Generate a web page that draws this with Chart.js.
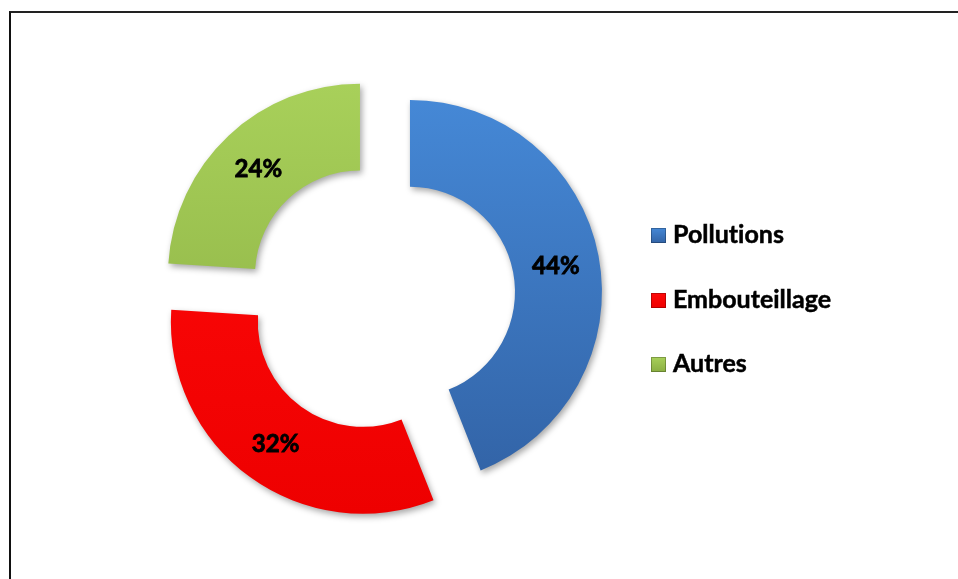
<!DOCTYPE html>
<html>
<head>
<meta charset="utf-8">
<script src="https://cdn.jsdelivr.net/npm/chart.js@4"></script>
<style>
  body { margin: 0; background: #fff; }
  #wrap { position: relative; width: 958px; height: 579px; overflow: hidden; }
  #frame {
    position: absolute; left: 9px; top: 11px; right: -5px; bottom: -5px;
    border-left: 2px solid #111; border-top: 2px solid #222;
  }
  #chart { position: absolute; left: 0; top: 0; }
  #legend {
    position: absolute; left: 651px; top: 0;
    font-family: Lato, "Open Sans", sans-serif; font-weight: bold; font-size: 25px; color: #000;
    font-variant-ligatures: none; -webkit-text-stroke: 0.5px #000;
  }
  .item { position: absolute; left: 0; white-space: nowrap; height: 30px; }
  .box { position: absolute; left: 0; top: 0; width: 15px; height: 15px; }
  .txt { position: absolute; left: 22px; top: -10px; }
</style>
</head>
<body>
<div id="wrap">
  <div id="frame"></div>
  <canvas id="chart" width="958" height="579"></canvas>
  <div id="legend"></div>
</div>
<script>
const categories = ['Pollutions', 'Embouteillage', 'Autres'];
const shares = [44, 32, 24];
const percentLabels = ['44%', '32%', '24%'];
const topColors = ['#4588d6', '#ff0a0a', '#a8d05a'];
const bottomColors = ['#3263a6', '#ee0000', '#8aae42'];
const legendTops = [228, 293, 357];

const explode = 30;

function sliceFill(context) {
    const chart = context.chart;
    const i = context.dataIndex;
    const area = chart.chartArea;
    if (!area) return topColors[i];
    const cy = (area.top + area.bottom) / 2;
    const g = chart.ctx.createLinearGradient(0, cy - 192, 0, cy + 192);
    g.addColorStop(0, topColors[i]);
    g.addColorStop(1, bottomColors[i]);
    return g;
}

// pull every slice outward along its middle angle, with a soft drop shadow
const explodedSlices = {
    id: 'explodedSlices',
    beforeDatasetDraw(chart, args) {
        const ctx = chart.ctx;
        args.meta.data.forEach(arc => {
            const mid = (arc.startAngle + arc.endAngle) / 2;
            ctx.save();
            ctx.translate(Math.cos(mid) * explode, Math.sin(mid) * explode);
            ctx.shadowColor = 'rgba(0,0,0,0.35)';
            ctx.shadowBlur = 6;
            ctx.shadowOffsetX = 2;
            ctx.shadowOffsetY = 3;
            arc.draw(ctx);
            ctx.restore();
        });
        return false;
    },
    afterDatasetsDraw(chart) {
        const ctx = chart.ctx;
        const meta = chart.getDatasetMeta(0);
        ctx.save();
        ctx.font = 'bold 24px Lato, "Open Sans", sans-serif';
        ctx.fillStyle = '#000';
        ctx.strokeStyle = '#000';
        ctx.lineWidth = 0.8;
        ctx.textAlign = 'center';
        ctx.textBaseline = 'middle';
        meta.data.forEach((arc, i) => {
            const mid = (arc.startAngle + arc.endAngle) / 2;
            const r = explode + (arc.innerRadius + arc.outerRadius) / 2;
            const x = arc.x + Math.cos(mid) * r;
            const y = arc.y + Math.sin(mid) * r + 2;
            ctx.fillText(percentLabels[i], x, y);
            ctx.strokeText(percentLabels[i], x, y);
        });
        ctx.restore();
    }
};

new Chart(document.getElementById('chart'), {
    type: 'doughnut',
    data: {
        labels: categories,
        datasets: [{
            data: shares,
            backgroundColor: sliceFill,
            borderWidth: 0
        }]
    },
    options: {
        responsive: false,
        animation: false,
        radius: 192,
        cutout: '54.7%',
        layout: { padding: { left: 0, right: 197, top: 16, bottom: 0 } },
        plugins: {
            legend: { display: false },
            tooltip: { enabled: false }
        }
    },
    plugins: [explodedSlices]
});

// legend on the right
const legend = document.getElementById('legend');
categories.forEach((name, i) => {
    const item = document.createElement('div');
    item.className = 'item';
    item.style.top = legendTops[i] + 'px';
    const box = document.createElement('div');
    box.className = 'box';
    box.style.background = 'linear-gradient(180deg, ' + topColors[i] + ', ' + bottomColors[i] + ')';
    box.style.boxShadow = 'inset 0 0 0 1px rgba(0,0,0,0.25)';
    const txt = document.createElement('span');
    txt.className = 'txt';
    txt.textContent = name;
    item.appendChild(box);
    item.appendChild(txt);
    legend.appendChild(item);
});
</script>
</body>
</html>
